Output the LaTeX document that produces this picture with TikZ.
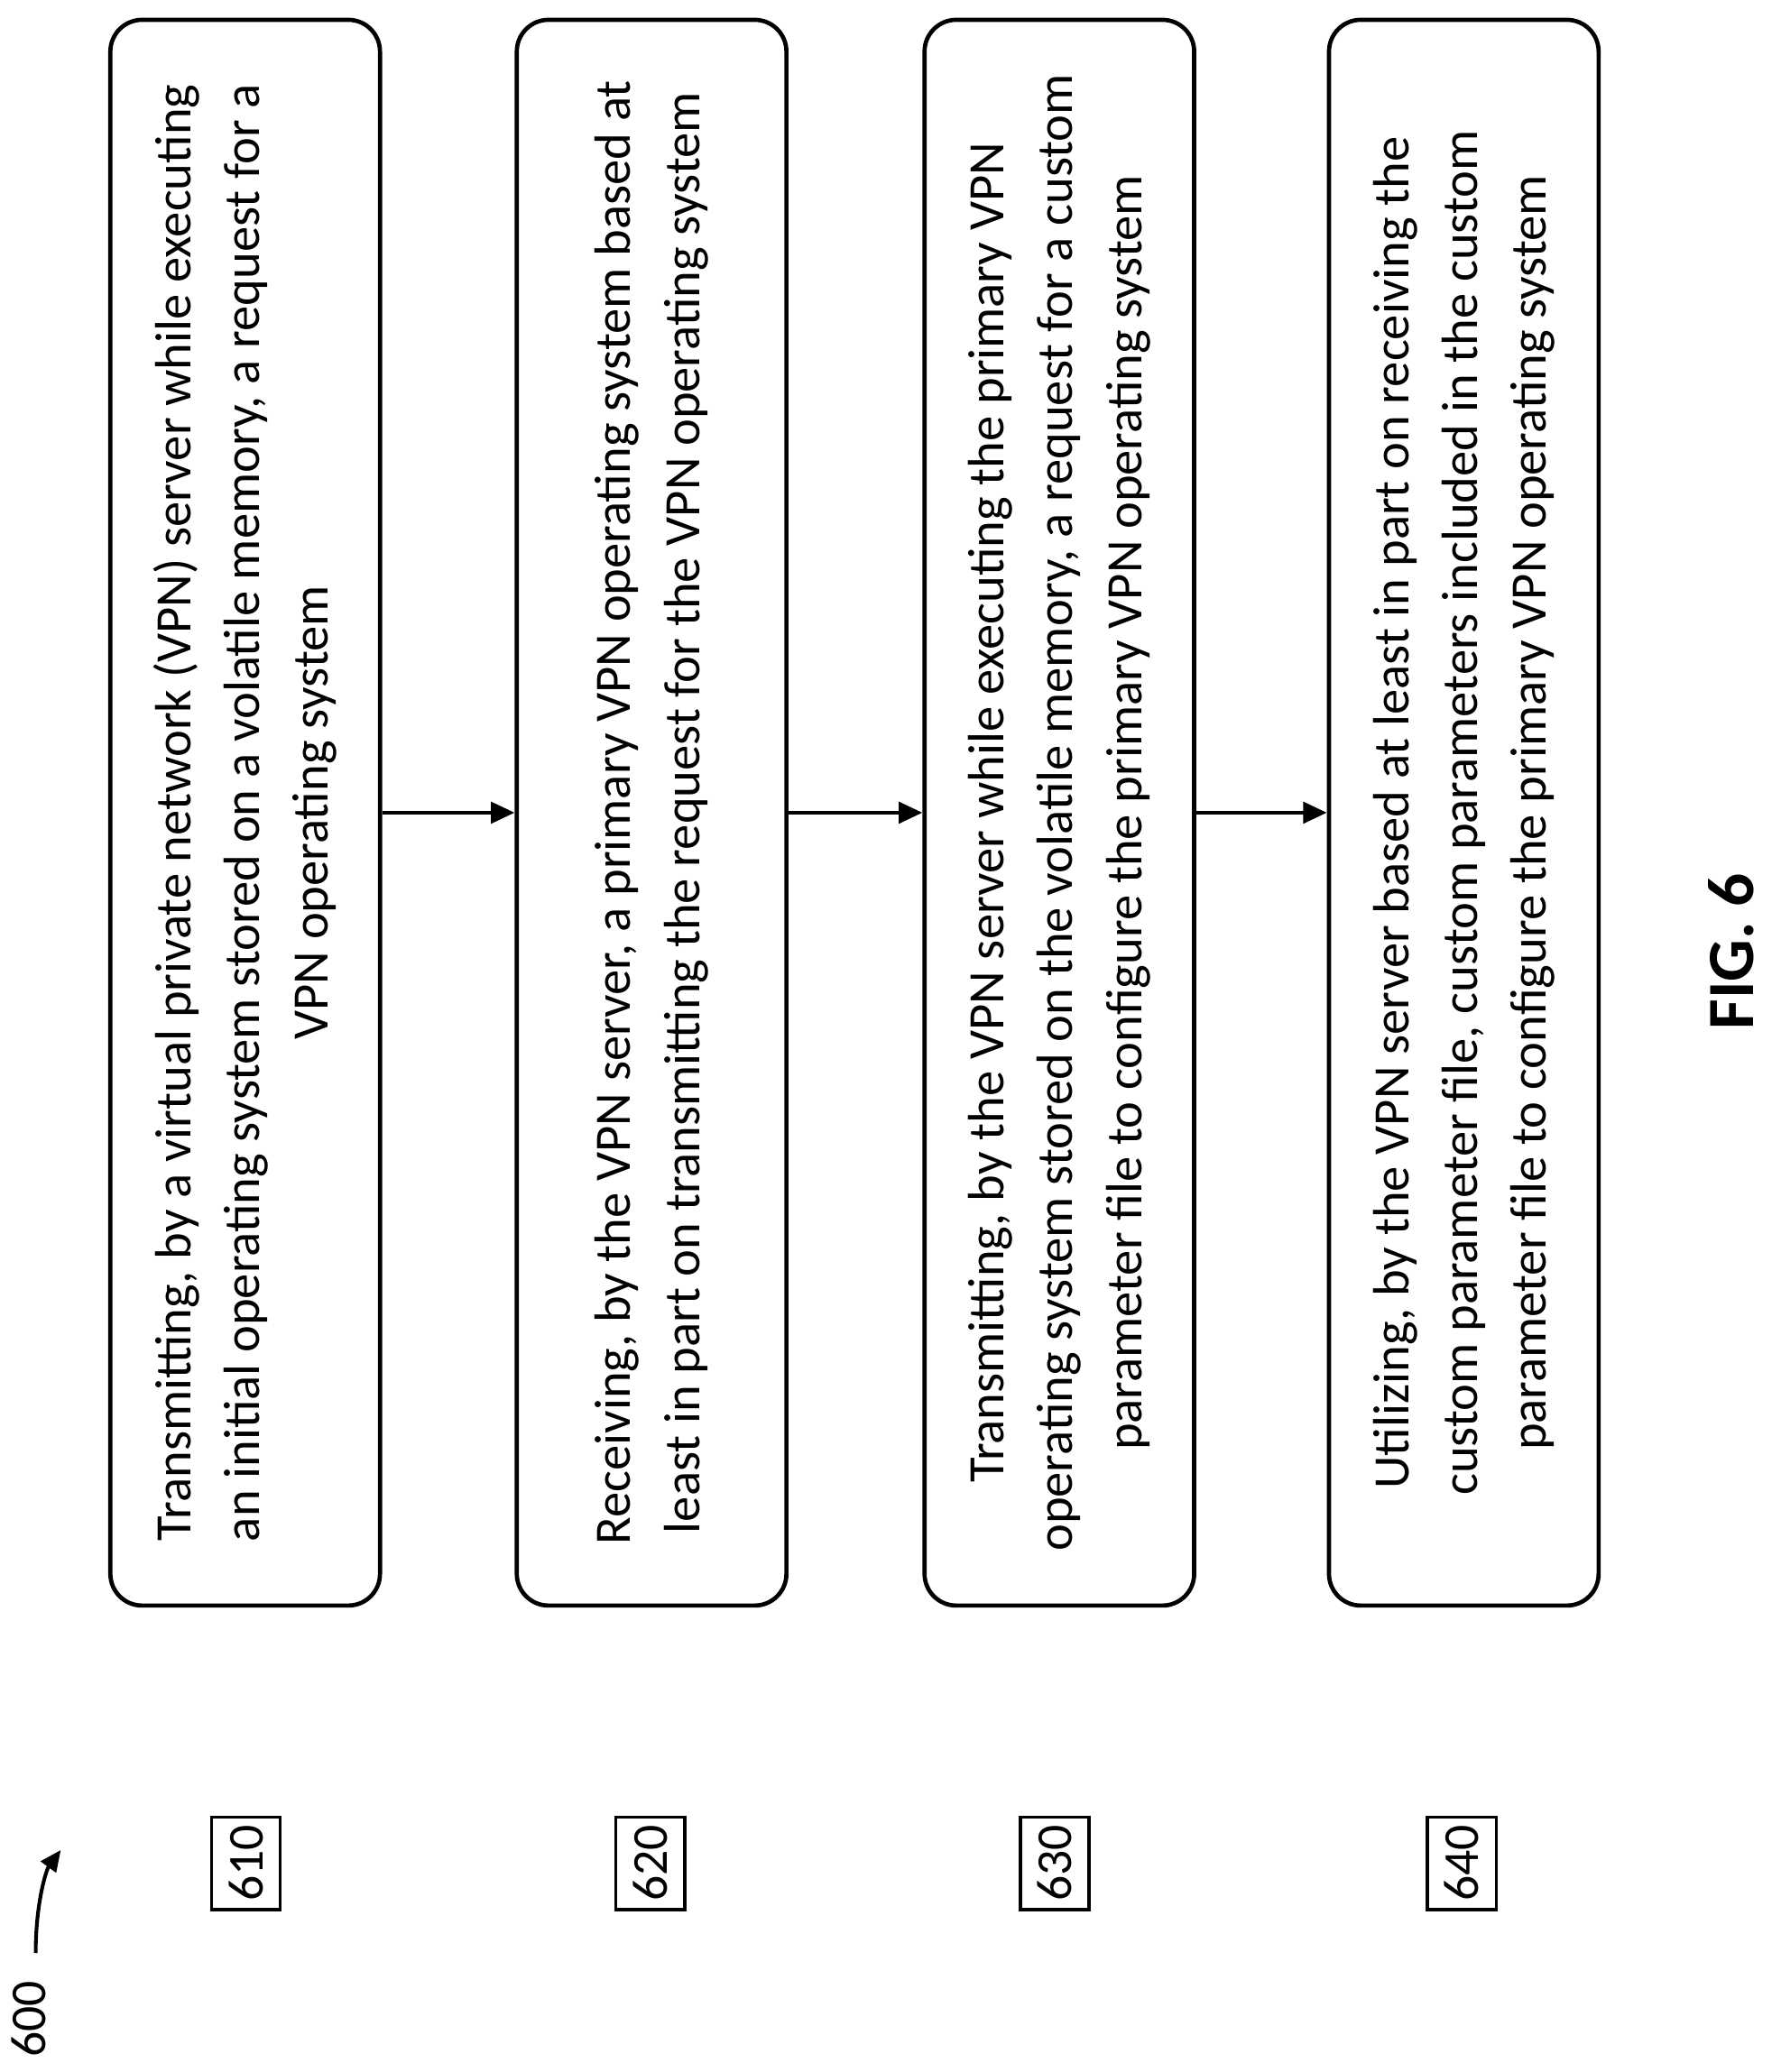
\documentclass[tikz,border=0pt]{standalone}
\usepackage{fontspec}
\setmainfont{Carlito}
\usetikzlibrary{arrows.meta}
\begin{document}
\begin{tikzpicture}[x=0.5pt,y=-0.5pt,
 stepbox/.style={draw,line width=1.6pt,rounded corners=12pt,rotate=90,minimum width=600pt,minimum height=102pt,align=center,font=\fontsize{19.3}{26}\selectfont,inner sep=0pt},
 lab/.style={draw,line width=1.2pt,rotate=90,minimum width=35pt,minimum height=26pt,inner sep=0pt,font=\fontsize{19}{22}\selectfont},
 arr/.style={line width=1.6pt,-{Triangle[length=9pt,width=8pt]}}]
\useasboundingbox (0,0) rectangle (1340,1568);
\node[stepbox] (b1) at (185.5,615) {Transmitting, by a virtual private network (VPN) server while executing\\an initial operating system stored on a volatile memory, a request for a\\VPN operating system};
\node[stepbox] (b2) at (493,615) {Receiving, by the VPN server, a primary VPN operating system based at\\least in part on transmitting the request for the VPN operating system};
\node[stepbox] (b3) at (801.5,615) {Transmitting, by the VPN server while executing the primary VPN\\operating system stored on the volatile memory, a request for a custom\\parameter file to configure the primary VPN operating system};
\node[stepbox] (b4) at (1107.5,615) {Utilizing, by the VPN server based at least in part on receiving the\\custom parameter file, custom parameters included in the custom\\parameter file to configure the primary VPN operating system};
\draw[arr] (b1.south) -- (b2.north);
\draw[arr] (b2.south) -- (b3.north);
\draw[arr] (b3.south) -- (b4.north);
\node[lab] (l1) at (186,1410) {610};
\node[lab] (l2) at (492,1410) {620};
\node[lab] (l3) at (798,1410) {630};
\node[lab] (l4) at (1106,1410) {640};
\node[rotate=90,font=\fontsize{19}{22}\selectfont] (n600) at (22,1528) {600};
\coordinate (c1) at (27,1478);
\coordinate (c2) at (46,1400);
\draw[line width=1.4pt,-{Triangle[length=8pt,width=7pt]}] (c1) .. controls (27,1440) and (35,1415) .. (c2);
\node[rotate=90,font=\fontsize{25}{28}\selectfont\bfseries] (fig) at (1310,720) {FIG. 6};
\end{tikzpicture}
\end{document}
